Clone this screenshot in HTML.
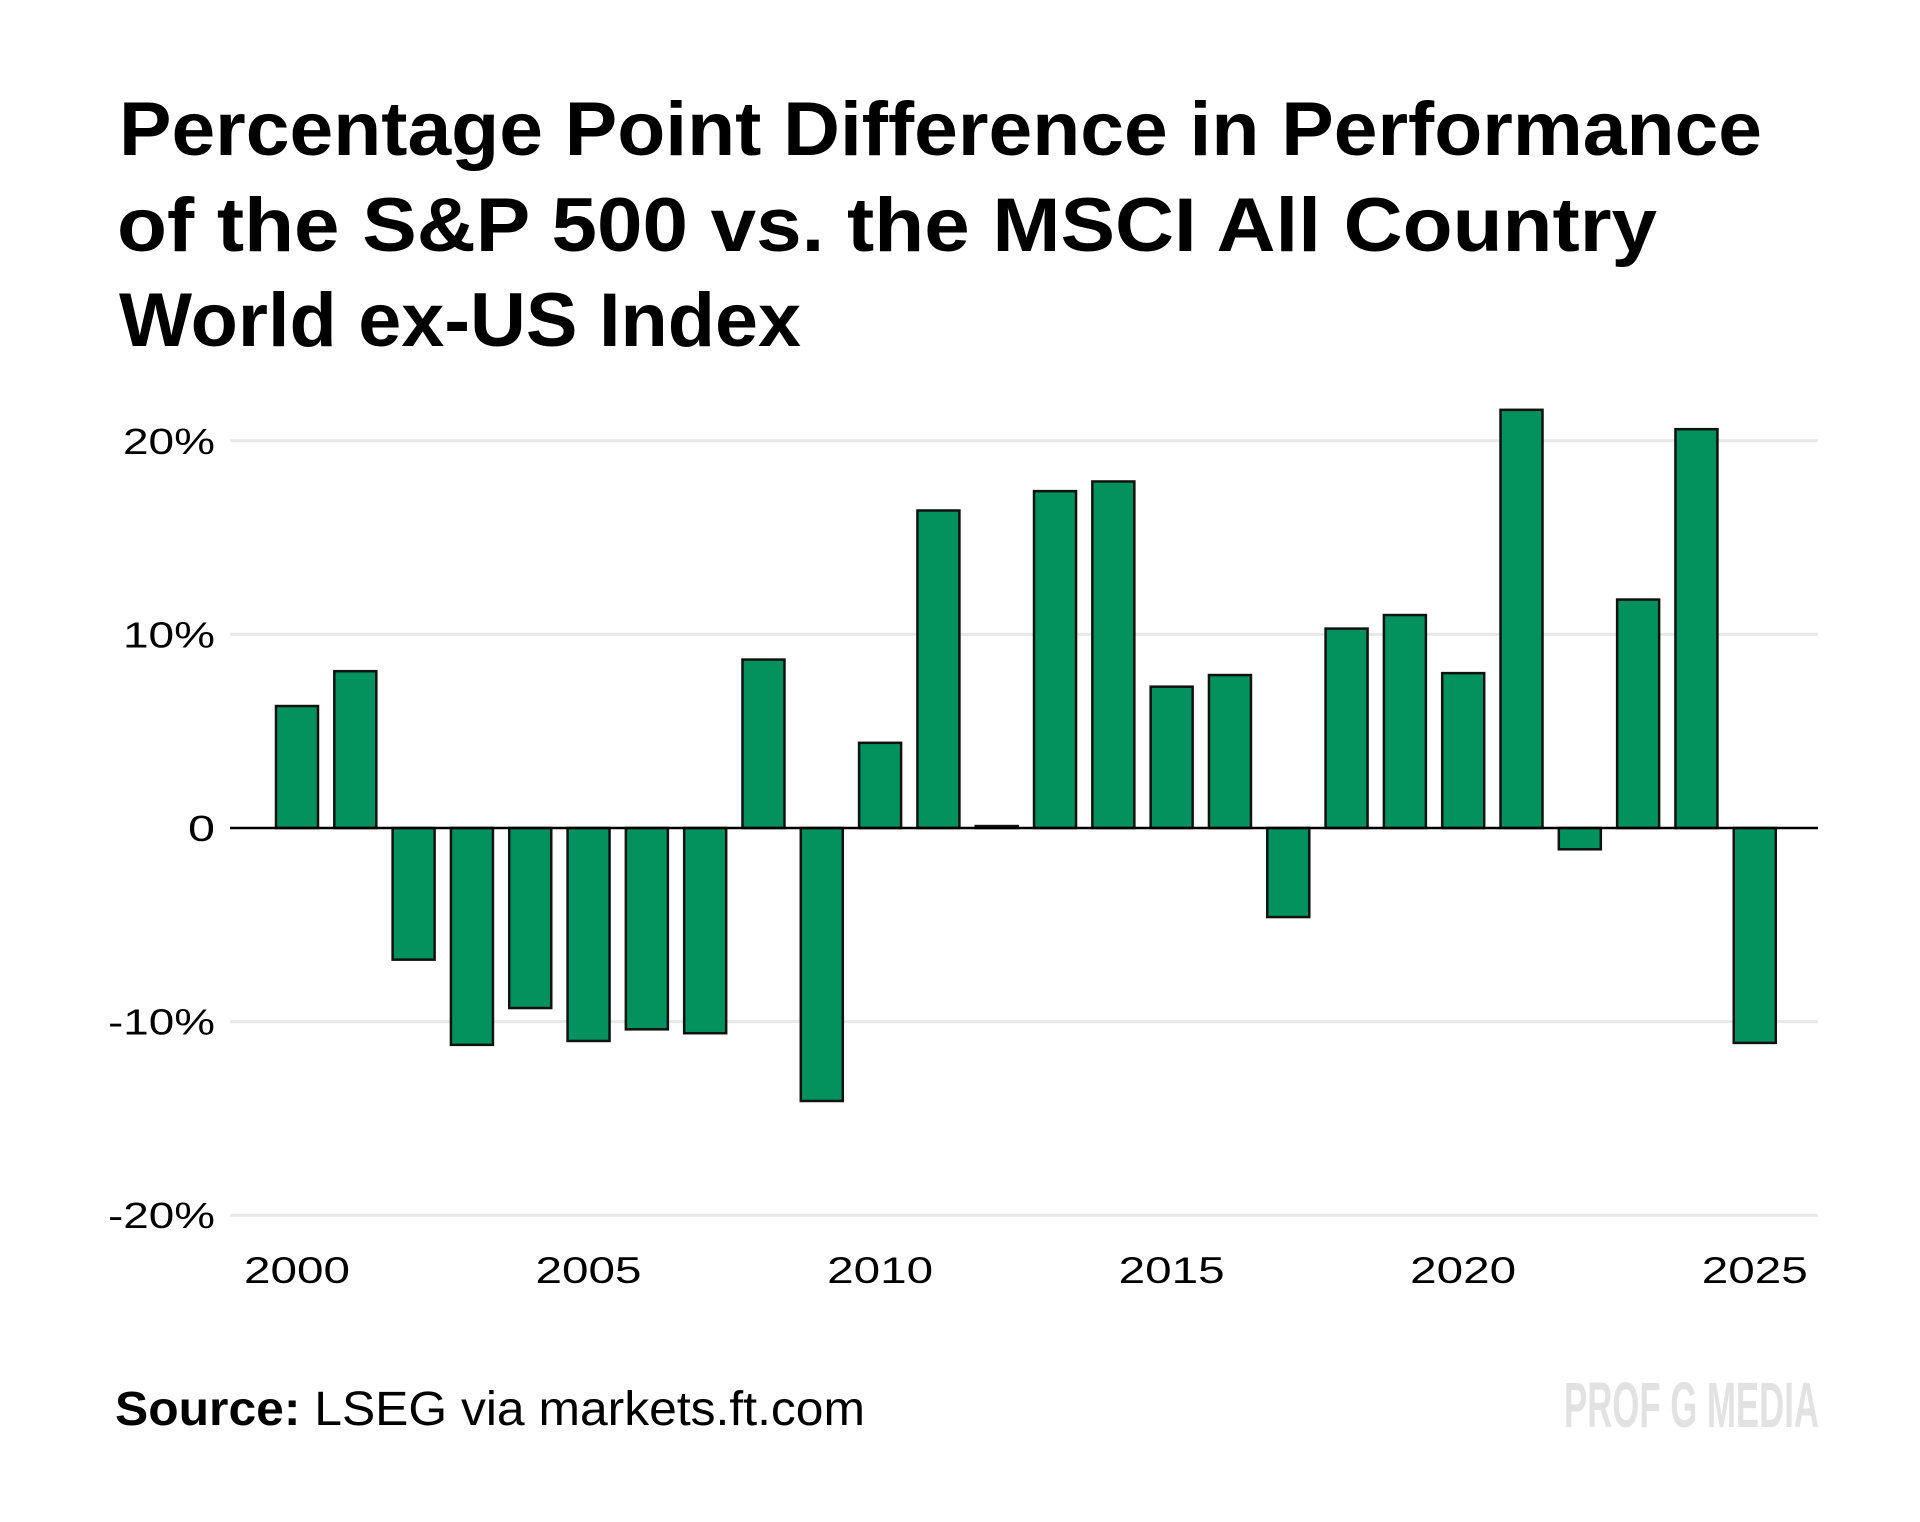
<!DOCTYPE html>
<html>
<head>
<meta charset="utf-8">
<style>
html,body{margin:0;padding:0;background:#fff;}
svg{display:block;}
text{font-family:"Liberation Sans",sans-serif;}
</style>
</head>
<body>
<svg id="chart" width="1920" height="1522" viewBox="0 0 1920 1522" xmlns="http://www.w3.org/2000/svg">
  <rect width="1920" height="1522" fill="#fff"/>
  <g font-weight="bold" font-size="76" fill="#000">
    <text x="119" y="155" textLength="1643" lengthAdjust="spacingAndGlyphs">Percentage Point Difference in Performance</text>
    <text x="117" y="251" textLength="1540" lengthAdjust="spacingAndGlyphs">of the S&amp;P 500 vs. the MSCI All Country</text>
    <text x="119" y="346" textLength="682" lengthAdjust="spacingAndGlyphs">World ex-US Index</text>
  </g>
  <g id="grid"></g>
  <g id="bars"></g>
  <g id="yticks"></g>
  <g id="xticks"></g>
  <text x="115" y="1425" font-size="48" fill="#000" textLength="750" lengthAdjust="spacingAndGlyphs"><tspan font-weight="bold">Source:</tspan> LSEG via markets.ft.com</text>
  <text x="1564" y="1427" font-size="64" font-weight="bold" fill="#e2e2e2" textLength="255" lengthAdjust="spacingAndGlyphs">PROF G MEDIA</text>
</svg>
<script>
const years = [2000,2001,2002,2003,2004,2005,2006,2007,2008,2009,2010,2011,2012,2013,2014,2015,2016,2017,2018,2019,2020,2021,2022,2023,2024,2025];
const values = [6.3,8.1,-6.8,-11.2,-9.3,-11.0,-10.4,-10.6,8.7,-14.1,4.4,16.4,0.1,17.4,17.9,7.3,7.9,-4.6,10.3,11.0,8.0,21.6,-1.1,11.8,20.6,-11.1];
const yTickValues = [20,10,0,-10,-20];
const yTickLabels = ["20%","10%","0","-10%","-20%"];
const xTickYears = [2000,2005,2010,2015,2020,2025];

const NS = "http://www.w3.org/2000/svg";
const plotLeft = 230, plotRight = 1818;
const y0 = 828, pxPerUnit = 19.36;
const firstCenter = 297, pitch = 58.31, barW = 42;
function yScale(v){ return y0 - v * pxPerUnit; }
function xScale(yr){ return firstCenter + (yr - years[0]) * pitch; }
function labelWidth(s){
  let w = 0;
  for (const c of s) w += (c === '%') ? 38 : (c === '-') ? 15 : 27;
  return w;
}
function mk(tag, attrs, parent){
  const e = document.createElementNS(NS, tag);
  for (const k in attrs) e.setAttribute(k, attrs[k]);
  parent.appendChild(e);
  return e;
}
const grid = document.getElementById('grid');
const yt = document.getElementById('yticks');
yTickValues.forEach((v,i)=>{
  if (v !== 0) {
    const l = mk('line',{x1:plotLeft,x2:plotRight,y1:yScale(v),y2:yScale(v),stroke:'#e8e8e8','stroke-width':3},grid);
    
    
  }
  const t = mk('text',{x:215,y:yScale(v)+13,'text-anchor':'end','font-size':36,fill:'#000',textLength:labelWidth(yTickLabels[i]),lengthAdjust:'spacingAndGlyphs'},yt);
  t.textContent = yTickLabels[i];
  
  
});
const bars = document.getElementById('bars');
values.forEach((v,i)=>{
  const cx = xScale(years[i]);
  const top = Math.min(yScale(v), y0), h = Math.abs(yScale(v) - y0);
  const r = mk('rect',{x:cx-barW/2,y:top,width:barW,height:Math.max(h,1),fill:'#03925e',stroke:'#111','stroke-width':2.5},bars);
  
  
});
const zl = mk('line',{x1:plotLeft,x2:plotRight,y1:y0,y2:y0,stroke:'#000','stroke-width':2.5},bars);


const xt = document.getElementById('xticks');
xTickYears.forEach(yr=>{
  const t = mk('text',{x:xScale(yr),y:1283,'text-anchor':'middle','font-size':37,fill:'#000',textLength:106,lengthAdjust:'spacingAndGlyphs'},xt);
  t.textContent = String(yr);
  
  
});
</script>
</body>
</html>
